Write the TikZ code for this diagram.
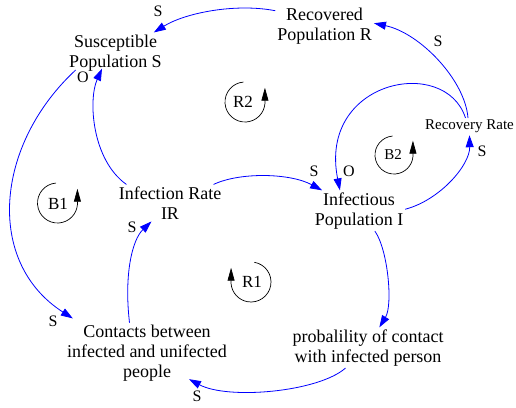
\documentclass[tikz,border=0pt]{standalone}
\usepackage{fontspec}
\setmainfont{Liberation Serif}
\usetikzlibrary{arrows.meta}

\begin{document}
\begin{tikzpicture}[x=1pt, y=-1pt, line cap=round, line join=round,
  var/.style={anchor=center, inner sep=2pt, align=center, font=\fontsize{18}{20}\selectfont},
  link/.style={draw=blue, line width=0.8pt, -{Triangle[length=12pt,width=8pt]}},
  sign/.style={inner sep=0pt, font=\fontsize{16}{18}\selectfont},
  loopmark/.style={line width=0.7pt, -{Triangle[length=13pt,width=7pt]}},
  looplabel/.style={inner sep=0pt, font=\fontsize{17}{19}\selectfont}]

  %% ════ 变量 ════
  \node[var] (susPop)   at (115.5,52.8)  {Susceptible\\Population S};
  \node[var] (recPop)   at (324.5,25.8)  {Recovered\\Population R};
  \node[var] (infRate)  at (170.0,202.9) {Infection Rate\\IR};
  \node[var] (infPop)   at (359.0,210.8) {Infectious\\Population I};
  \node[anchor=center, inner sep=2pt, font=\fontsize{15}{17}\selectfont] (recRate) at (469.5,126.5) {Recovery Rate};
  \node[var] (contacts) at (147.0,352.8) {Contacts between\\infected and unifected\\people};
  \node[var] (prob)     at (368.0,347.8) {probalility of contact\\with infected person};

  %% ════ 因果链（三段式曲线）════
  \draw[link] (recPop.163) .. controls (235,3) and (185,13) .. (susPop.28);
  \draw[link] (recRate.100) .. controls (465,80) and (420,33) .. (recPop.3);
  \draw[link] (recRate.115) .. controls (445,55) and (318,80) .. (infPop.133);
  \draw[link] (infPop.2) .. controls (440,200) and (470,165) .. (recRate.south);
  \draw[link] (infRate.23) .. controls (240,172) and (290,173) .. (infPop.151);
  \draw[link] (infRate.157) .. controls (92,160) and (88,100) .. ([shift={(-13.5pt,4.5pt)}]susPop.south);
  \draw[link] ([shift={(-40pt,3pt)}]susPop.south) .. controls (-5,145) and (-15,262) .. ([shift={(8pt,4pt)}]contacts.north west);
  \draw[link] (contacts.120) .. controls (124,275) and (132,240) .. (infRate.225);
  \draw[link] (infPop.308) .. controls (388,250) and (393,305) .. (prob.61);
  \draw[link] (prob.222) .. controls (318,392) and (228,400) .. ([shift={(42pt,4pt)}]contacts.south);

  %% ════ 极性标记 ════
  \node[sign] (polRS)  at (158,11)  {S};
  \node[sign] (polRR)  at (438,41)  {S};
  \node[sign] (polRI)  at (349,171) {O};
  \node[sign] (polIR)  at (482,151) {S};
  \node[sign] (polII)  at (314,171) {S};
  \node[sign] (polIS)  at (83,77)   {O};
  \node[sign] (polSC)  at (53,321)  {S};
  \node[sign] (polCI)  at (132,227) {S};
  \node[sign] (polPC)  at (197,396) {S};

  %% ════ 回路标记 ════
  \draw[loopmark] (245,102) ++(265:20) arc[start angle=265, end angle=5, radius=20] -- ++(0,-16);
  \node[looplabel] (loopR2) at (243,102) {R2};
  \draw[loopmark] (394,155) ++(265:19) arc[start angle=265, end angle=5, radius=19] -- ++(0,-16);
  \node[looplabel, font=\fontsize{15}{17}\selectfont] (loopB2) at (393,155) {B2};
  \draw[loopmark] (57.5,203) ++(265:20) arc[start angle=265, end angle=5, radius=20] -- ++(0,-16);
  \node[looplabel] (loopB1) at (58,204) {B1};
  \draw[loopmark] (251,282) ++(280:20) arc[start angle=280, end angle=535, radius=20] -- ++(0,-16);
  \node[looplabel] (loopR1) at (252,282) {R1};

  % 钉死画布
  \pgfresetboundingbox
  \path[use as bounding box] (0,0) rectangle (516,407);
\end{tikzpicture}
\end{document}
